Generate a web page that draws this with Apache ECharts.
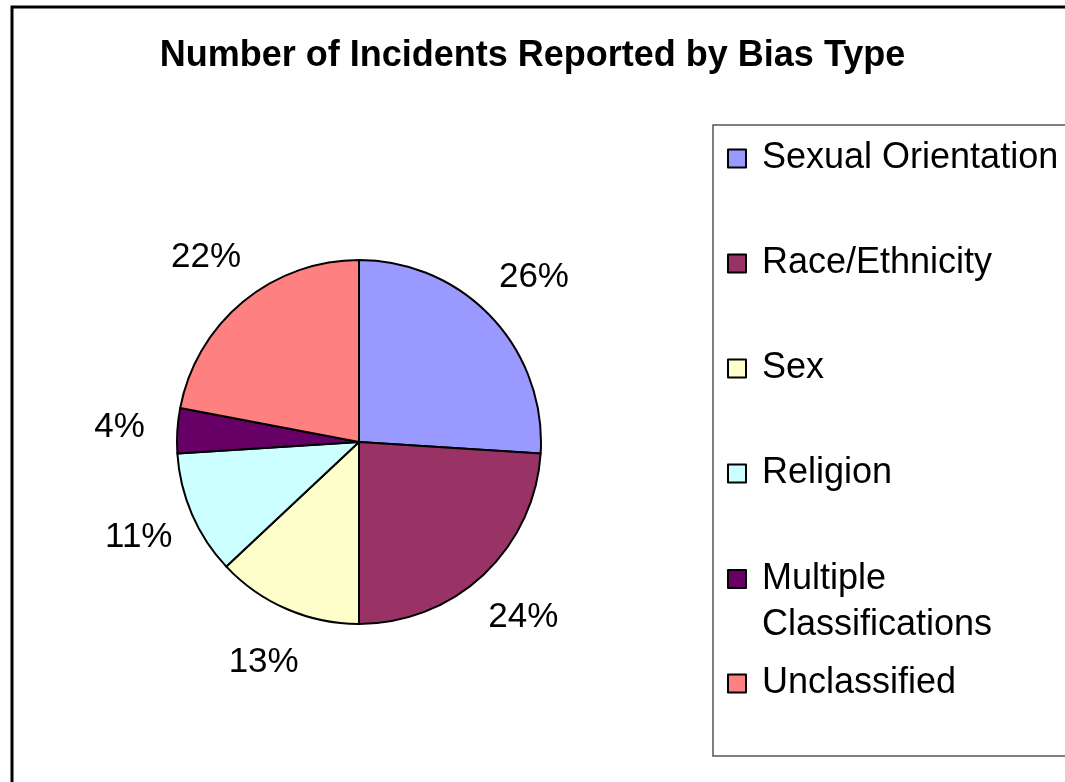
<!DOCTYPE html>
<html>
<head>
<meta charset="utf-8">
<script src="https://cdn.jsdelivr.net/npm/echarts@6/dist/echarts.min.js"></script>
<style>
  html, body { margin: 0; padding: 0; background: #fff; }
  #chart { width: 1065px; height: 782px; }
</style>
</head>
<body>
<div id="chart"></div>
<script>
const chartTitle = 'Number of Incidents Reported by Bias Type';
const categories = ['Sexual Orientation', 'Race/Ethnicity', 'Sex', 'Religion', 'Multiple Classifications', 'Unclassified'];
const legendLabels = ['Sexual Orientation', 'Race/Ethnicity', 'Sex', 'Religion', '\nMultiple\nClassifications', 'Unclassified'];
const percentValues = [26, 24, 13, 11, 4, 22];
const sliceColors = ['#9999FF', '#993366', '#FFFFCC', '#CCFFFF', '#660066', '#FF8080'];

const FONT = 'Liberation Sans, Arial, sans-serif';
const pieData = categories.map((name, i) => ({ name: name, value: percentValues[i], itemStyle: { color: sliceColors[i] } }));
const labelData = categories.map((name, i) => ({ name: name, value: percentValues[i] }));
const legendLabelOf = name => legendLabels[categories.indexOf(name)];

const legendCommon = {
  orient: 'vertical',
  left: 727,
  padding: 0,
  icon: 'rect',
  itemWidth: 18,
  itemHeight: 18,
  selectedMode: false,
  formatter: legendLabelOf,
  itemStyle: { borderColor: '#000', borderWidth: 2 },
  textStyle: { fontFamily: FONT, fontSize: 36, color: '#000', lineHeight: 46, padding: [6, 0, 0, 11] }
};

const chart = echarts.init(document.getElementById('chart'));
chart.setOption({
  backgroundColor: '#fff',
  animation: false,
  title: {
    text: chartTitle,
    left: 'center',
    top: 38,
    padding: 0,
    textStyle: { fontFamily: FONT, fontSize: 36, fontWeight: 'bold', color: '#000' }
  },
  graphic: [
    { type: 'rect', silent: true, shape: { x: 12, y: 7, width: 1100, height: 900 }, style: { fill: 'none', stroke: '#000', lineWidth: 3 } },
    { type: 'rect', silent: true, shape: { x: 713, y: 125, width: 400, height: 631 }, style: { fill: 'none', stroke: '#555', lineWidth: 1.5 } }
  ],
  legend: [
    Object.assign({}, legendCommon, { top: 132.5, itemGap: 53, data: categories.slice(0, 4) }),
    Object.assign({}, legendCommon, { top: 507, itemGap: 6.5, data: categories.slice(4) })
  ],
  series: [
    {
      type: 'pie',
      center: [359, 442],
      radius: 182,
      startAngle: 90,
      clockwise: true,
      silent: true,
      label: { show: false },
      labelLine: { show: false },
      itemStyle: { borderColor: '#000', borderWidth: 2 },
      data: pieData
    },
    {
      type: 'pie',
      center: [359, 442],
      radius: [200, 274],
      startAngle: 90,
      clockwise: true,
      silent: true,
      itemStyle: { color: 'transparent', borderWidth: 0 },
      label: { show: true, position: 'inside', formatter: '{c}%', fontFamily: FONT, fontSize: 35, color: '#000' },
      labelLine: { show: false },
      data: labelData
    }
  ]
});
</script>
</body>
</html>
